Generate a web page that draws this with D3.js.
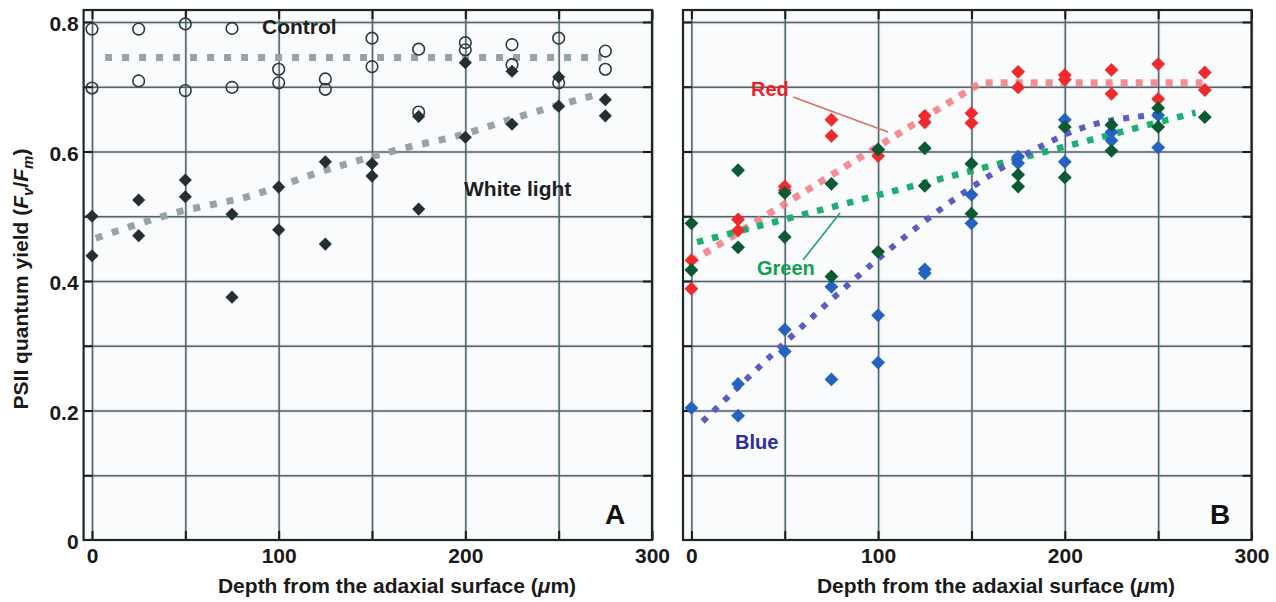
<!DOCTYPE html>
<html>
<head>
<meta charset="utf-8">
<script src="https://cdn.jsdelivr.net/npm/d3@7"></script>
<style>
  html, body { margin: 0; padding: 0; background: #ffffff; }
  svg { display: block; font-family: "Liberation Sans", Arial, Helvetica, sans-serif; font-weight: bold; }
</style>
</head>
<body>
<svg id="chart" width="1276" height="602"></svg>
<script>
// ---------------- DATA ----------------
const xTickLabels = [0, 100, 200, 300];
const yTickLabels = [0, 0.2, 0.4, 0.6, 0.8];
const xGrid = [0, 50, 100, 150, 200, 250, 300];
const yGrid = [0.1, 0.2, 0.3, 0.4, 0.5, 0.6, 0.7, 0.8];

// Panel A – control (open circles)
const controlDepth = [0,0,25,25,50,50,75,75,100,100,125,125,150,150,175,175,200,200,225,225,250,250,275,275];
const controlYield = [0.789,0.698,0.789,0.709,0.797,0.694,0.790,0.699,0.727,0.706,0.712,0.696,0.775,0.731,0.758,0.661,0.768,0.757,0.765,0.734,0.775,0.706,0.755,0.727];
// Panel A – white light (filled diamonds)
const whiteDepth = [0,0,25,25,50,50,75,75,100,100,125,125,150,150,175,175,200,200,225,225,250,250,275,275];
const whiteYield = [0.500,0.439,0.525,0.470,0.556,0.530,0.503,0.375,0.545,0.479,0.584,0.457,0.581,0.562,0.654,0.511,0.737,0.622,0.724,0.642,0.715,0.670,0.680,0.655];
// Panel A – fitted lines
const controlFitDepth = [7, 273];
const controlFitYield = [0.745, 0.745];
const whiteFitDepth = [2, 47, 83, 125, 167, 197, 229, 268];
const whiteFitYield = [0.466, 0.507, 0.530, 0.571, 0.605, 0.625, 0.654, 0.686];

// Panel B – red
const redDepth = [0,0,25,25,50,50,75,75,100,100,125,125,150,150,175,175,200,200,225,225,250,250,275,275];
const redYield = [0.432,0.388,0.495,0.478,0.546,0.540,0.649,0.624,0.603,0.593,0.655,0.645,0.659,0.644,0.723,0.699,0.718,0.711,0.726,0.689,0.735,0.681,0.722,0.695];
// Panel B – green
const greenDepth = [0,0,25,25,50,50,75,75,100,100,125,125,150,150,175,175,200,200,225,225,250,250,275];
const greenYield = [0.489,0.417,0.571,0.452,0.536,0.468,0.550,0.407,0.603,0.445,0.605,0.547,0.581,0.504,0.564,0.546,0.638,0.560,0.641,0.601,0.667,0.638,0.653];
// Panel B – blue
const blueDepth = [0,25,25,50,50,75,75,100,100,125,125,150,150,175,175,200,200,225,225,250,250];
const blueYield = [0.204,0.241,0.192,0.325,0.291,0.391,0.248,0.347,0.274,0.418,0.412,0.533,0.489,0.592,0.582,0.649,0.584,0.630,0.617,0.656,0.606];
// Panel B – fitted lines
const redFitDepth = [0, 155, 277];
const redFitYield = [0.430, 0.706, 0.706];
const greenFitDepth = [3, 270];
const greenFitYield = [0.460, 0.660];
const blueFitDepth = [6, 190, 205, 250];
const blueFitYield = [0.183, 0.612, 0.632, 0.657];

// ---------------- CHART ----------------
const svg = d3.select("#chart");
const plotTop = 10, plotBottom = 540;
const y = d3.scaleLinear().domain([0, 0.8185]).range([plotBottom, plotTop]);
const zip = (a, b) => a.map((v, i) => [v, b[i]]);

function panel(left, right, showY) {
  const x = d3.scaleLinear().domain([-4.5, 300]).range([left, right]);
  const g = svg.append("g");
  g.append("rect").attr("x", left).attr("y", plotTop).attr("width", right - left).attr("height", plotBottom - plotTop).attr("fill", "#fafbfd");

  // grid: faint pink halo then dark teal line
  [["rgba(236,180,170,0.35)", 3.4], ["#3e6b77", 1.5]].forEach(([c, w]) => {
    const gx = g.append("g").attr("transform", `translate(0,${plotBottom})`)
      .call(d3.axisBottom(x).tickValues(xGrid).tickSize(-(plotBottom - plotTop)).tickFormat(""));
    gx.select(".domain").remove();
    gx.selectAll("line").attr("stroke", c).attr("stroke-width", w);
    const gy = g.append("g").attr("transform", `translate(${left},0)`)
      .call(d3.axisLeft(y).tickValues(yGrid).tickSize(-(right - left)).tickFormat(""));
    gy.select(".domain").remove();
    gy.selectAll("line").attr("stroke", c).attr("stroke-width", w);
  });

  // inner ticks on all four sides
  const tk = 9;
  const axes = [
    [d3.axisBottom(x).tickValues(xGrid), `translate(0,${plotBottom})`],
    [d3.axisTop(x).tickValues(xGrid), `translate(0,${plotTop})`],
    [d3.axisLeft(y).tickValues(yGrid), `translate(${left},0)`],
    [d3.axisRight(y).tickValues(yGrid), `translate(${right},0)`]
  ];
  axes.forEach(([ax, tr]) => {
    const a = g.append("g").attr("transform", tr).call(ax.tickSize(-tk).tickFormat(""));
    a.select(".domain").remove();
    a.selectAll("line").attr("stroke", "#151d1d").attr("stroke-width", 2);
  });

  // frame
  g.append("rect").attr("x", left).attr("y", plotTop).attr("width", right - left).attr("height", plotBottom - plotTop)
    .attr("fill", "none").attr("stroke", "#1b2626").attr("stroke-width", 2.2);

  // tick labels
  const xl = g.append("g").attr("transform", `translate(0,${plotBottom})`)
    .call(d3.axisBottom(x).tickValues(xTickLabels).tickSize(0).tickPadding(8).tickFormat(d3.format("d")));
  xl.select(".domain").remove();
  xl.selectAll("text").attr("font-size", 21).attr("fill", "#1a1a1a").attr("font-family", null);
  if (showY) {
    const yl = g.append("g").attr("transform", `translate(${left},0)`)
      .call(d3.axisLeft(y).tickValues(yTickLabels).tickSize(0).tickPadding(5).tickFormat(d => d === 0 ? "0" : d3.format(".1f")(d)));
    yl.select(".domain").remove();
    yl.selectAll("text").attr("font-size", 21).attr("fill", "#1a1a1a").attr("dy", "0.42em").attr("font-family", null);
  }
  return { x, g };
}

const diamond = (s) => d3.symbol().type(d3.symbolSquare).size(s)();
function drawDiamonds(g, x, depth, vals, color, size) {
  g.append("g").selectAll("path").data(zip(depth, vals)).join("path")
    .attr("d", diamond(size))
    .attr("transform", d => `translate(${x(d[0])},${y(d[1])}) rotate(45)`)
    .attr("fill", color);
}
function drawFit(g, x, depth, vals, color, w, dash, curve, op) {
  g.append("path").datum(zip(depth, vals))
    .attr("d", d3.line().x(d => x(d[0])).y(d => y(d[1])).curve(curve))
    .attr("fill", "none").attr("stroke", color).attr("stroke-width", w)
    .attr("stroke-dasharray", dash).attr("opacity", op);
}

// ---- Panel A ----
const A = panel(83.6, 652, true);
drawFit(A.g, A.x, controlFitDepth, controlFitYield, "#98a3a8", 7, "7 10", d3.curveLinear, 1);
drawFit(A.g, A.x, whiteFitDepth, whiteFitYield, "#98a3a8", 7, "7 10", d3.curveMonotoneX, 1);
A.g.append("g").selectAll("circle").data(zip(controlDepth, controlYield)).join("circle")
  .attr("cx", d => A.x(d[0])).attr("cy", d => y(d[1])).attr("r", 5.8)
  .attr("fill", "none").attr("stroke", "#2e3a3a").attr("stroke-width", 1.6);
drawDiamonds(A.g, A.x, whiteDepth, whiteYield, "#243030", 86);
A.g.append("text").attr("x", 262).attr("y", 34).attr("font-size", 21).attr("fill", "#1e1e1e").text("Control");
A.g.append("text").attr("x", 464).attr("y", 196).attr("font-size", 21).attr("fill", "#1e1e1e").text("White light");
A.g.append("text").attr("x", 615).attr("y", 524).attr("font-size", 28).attr("text-anchor", "middle").attr("fill", "#111").text("A");

// ---- Panel B ----
const B = panel(683, 1251.5, false);
drawFit(B.g, B.x, redFitDepth, redFitYield, "#f27a82", 7, "7 8", d3.curveLinear, 0.85);
drawFit(B.g, B.x, greenFitDepth, greenFitYield, "#1fae72", 6.5, "6.5 9", d3.curveLinear, 1);
drawFit(B.g, B.x, blueFitDepth, blueFitYield, "#5a5cc0", 6, "6 9", d3.curveMonotoneX, 1);
drawDiamonds(B.g, B.x, redDepth, redYield, "#ef2a2c", 96);
drawDiamonds(B.g, B.x, blueDepth, blueYield, "#2463c0", 96);
drawDiamonds(B.g, B.x, greenDepth, greenYield, "#0b5a33", 96);
// labels + leader lines
B.g.append("line").attr("x1", 793).attr("y1", 97).attr("x2", 888).attr("y2", 132).attr("stroke", "#d8705f").attr("stroke-width", 1.6);
B.g.append("line").attr("x1", 803).attr("y1", 260).attr("x2", 840).attr("y2", 213).attr("stroke", "#1aa36a").attr("stroke-width", 1.6);
B.g.append("text").attr("x", 751).attr("y", 96).attr("font-size", 20).attr("fill", "#ee2027").text("Red");
B.g.append("text").attr("x", 757).attr("y", 275).attr("font-size", 20).attr("fill", "#10a050").text("Green");
B.g.append("text").attr("x", 735).attr("y", 449).attr("font-size", 20).attr("fill", "#2b2f97").text("Blue");
B.g.append("text").attr("x", 1220).attr("y", 524).attr("font-size", 28).attr("text-anchor", "middle").attr("fill", "#111").text("B");

// ---- axis titles ----
[397, 996].forEach(cx => {
  svg.append("text").attr("x", cx).attr("y", 593).attr("text-anchor", "middle").attr("font-size", 21).attr("fill", "#1a1a1a")
    .html('Depth from the adaxial surface (<tspan font-style="italic">μ</tspan>m)');
});
const yt = svg.append("text").attr("transform", "translate(28,279) rotate(-90)").attr("text-anchor", "middle")
  .attr("font-size", 21).attr("fill", "#1a1a1a");
yt.append("tspan").text("PSII quantum yield (");
yt.append("tspan").attr("font-style", "italic").text("F");
yt.append("tspan").attr("font-style", "italic").attr("font-size", 15).attr("dy", 5).text("v");
yt.append("tspan").attr("dy", -5).text("/");
yt.append("tspan").attr("font-style", "italic").text("F");
yt.append("tspan").attr("font-style", "italic").attr("font-size", 15).attr("dy", 5).text("m");
yt.append("tspan").attr("dy", -5).text(")");
</script>
</body>
</html>
